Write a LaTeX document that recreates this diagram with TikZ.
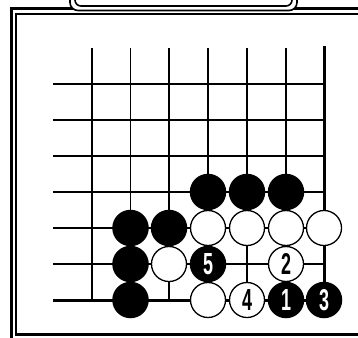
\documentclass[tikz,border=0pt]{standalone}
\usepackage{fontspec}
\setmainfont{Liberation Sans}
\newcommand{\stonenum}[1]{\resizebox{10pt}{21pt}{\bfseries #1}}
\begin{document}
\begin{tikzpicture}[x=1pt,y=-1pt,
  gridline/.style={line width=1.3pt},
  edgeline/.style={line width=3pt},
  bstone/.style={circle,fill=black,minimum size=36.5pt,inner sep=0pt,text=white},
  wstone/.style={circle,draw=black,line width=1.3pt,fill=white,minimum size=35pt,inner sep=0pt,text=black}]
\useasboundingbox (0,0) rectangle (358,337);
\clip (0,0) rectangle (358,337);
% frame
\draw[line width=3pt] (11.5,345) -- (11.5,8.5) -- (365,8.5);
\draw[line width=2pt] (16,334) -- (16,14.5) -- (365,14.5);
\draw[line width=3pt] (15,334) -- (365,334);
% label box
\draw[line width=1.6pt,fill=white,rounded corners=8pt] (70,-25) rectangle (297,10.5);
\draw[line width=1.6pt,rounded corners=6pt] (75,-25) rectangle (292,6);
% grid
\foreach \x in {92,130.5,169,208,247,286} \draw[gridline] (\x,48) -- (\x,300);
\foreach \y in {84,120,156,192,228,264} \draw[gridline] (53,\y) -- (324,\y);
\draw[edgeline] (324,46.5) -- (324,300);
\draw[edgeline] (53,300) -- (325.5,300);
% stones
\node[bstone] (b1) at (208,192) {};
\node[bstone] (b2) at (247,192) {};
\node[bstone] (b3) at (286,192) {};
\node[bstone] (b4) at (130.5,228) {};
\node[bstone] (b5) at (169,228) {};
\node[wstone] (w1) at (208,228) {};
\node[wstone] (w2) at (247,228) {};
\node[wstone] (w3) at (286,228) {};
\node[wstone] (w4) at (324,228) {};
\node[bstone] (b6) at (130.5,264) {};
\node[wstone] (w5) at (169,264) {};
\node[bstone] (m5) at (208,264) {\stonenum{5}};
\node[wstone] (m2) at (286,264) {\stonenum{2}};
\node[bstone] (b7) at (130.5,300) {};
\node[wstone] (w6) at (208,300) {};
\node[wstone] (m4) at (247,300) {\stonenum{4}};
\node[bstone] (m1) at (286,300) {\stonenum{1}};
\node[bstone] (m3) at (324,300) {\stonenum{3}};
\end{tikzpicture}
\end{document}
